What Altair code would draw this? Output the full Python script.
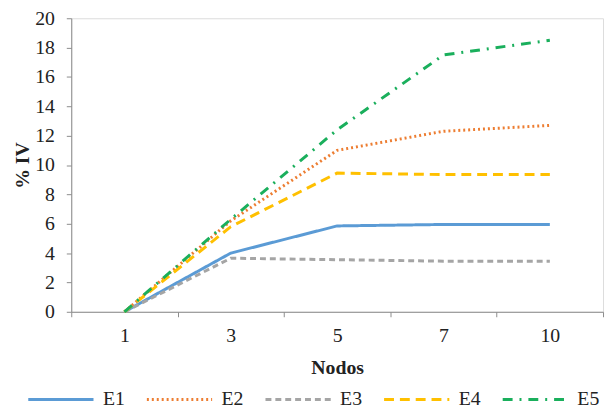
import altair as alt
import pandas as pd

nodos = ["1", "3", "5", "7", "10"]
series = ["E1", "E2", "E3", "E4", "E5"]
E1 = [0, 4.0, 5.85, 5.95, 5.95]
E2 = [0, 6.2, 11.0, 12.3, 12.7]
E3 = [0, 3.65, 3.55, 3.45, 3.45]
E4 = [0, 5.8, 9.45, 9.35, 9.35]
E5 = [0, 6.3, 12.4, 17.5, 18.5]
colors = ["#5B9BD5", "#ED7D31", "#A5A5A5", "#FFC000", "#1AAF5C"]
dashes = [[1, 0], [2, 3], [6, 4], [10, 6], [10, 7, 2, 7]]

rows = []
for name, vals in zip(series, [E1, E2, E3, E4, E5]):
    for n, v in zip(nodos, vals):
        rows.append({"Nodos": n, "IV": v, "Serie": name})
df = pd.DataFrame(rows)

font = "Liberation Serif"
txt = "#222222"

legend = alt.Legend(title=None, orient="none", direction="horizontal",
                    legendX=-45, legendY=351,
                    symbolType="stroke", symbolSize=4356, symbolStrokeWidth=3,
                    labelFontSize=20, labelFont=font, labelColor=txt,
                    labelOffset=8, columnPadding=15)

chart = alt.Chart(df).mark_line(strokeWidth=3).encode(
    x=alt.X("Nodos:N", sort=nodos, title="Nodos",
            scale=alt.Scale(type="band", paddingInner=0, paddingOuter=0),
            axis=alt.Axis(labelAngle=0, tickBand="extent", domainColor="#8c8c8c",
                          tickColor="#8c8c8c", tickSize=5, labelFontSize=20, labelFont=font,
                          labelColor=txt, labelPadding=9,
                          titleFont=font, titleFontSize=20, titleFontWeight="bold",
                          titleColor=txt, titlePadding=12)),
    y=alt.Y("IV:Q", title="% IV",
            scale=alt.Scale(domain=[0, 20]),
            axis=alt.Axis(values=list(range(0, 21, 2)), grid=False, domainColor="#8c8c8c",
                          tickColor="#8c8c8c", tickSize=5, labelFontSize=20, labelFont=font,
                          labelColor=txt, labelPadding=12,
                          titleFont=font, titleFontSize=20, titleFontWeight="bold",
                          titleColor=txt, titlePadding=2)),
    color=alt.Color("Serie:N", scale=alt.Scale(domain=series, range=colors), legend=legend),
    strokeDash=alt.StrokeDash("Serie:N", scale=alt.Scale(domain=series, range=dashes),
                              legend=legend),
).properties(
    width=538, height=297,
    autosize=alt.AutoSizeParams(type="none"),
    padding={"left": 64, "top": 8, "right": 2, "bottom": 98},
).configure_view(stroke=None).configure(font=font)

chart.save("out.html", embed_options={"renderer": "svg", "actions": False})
